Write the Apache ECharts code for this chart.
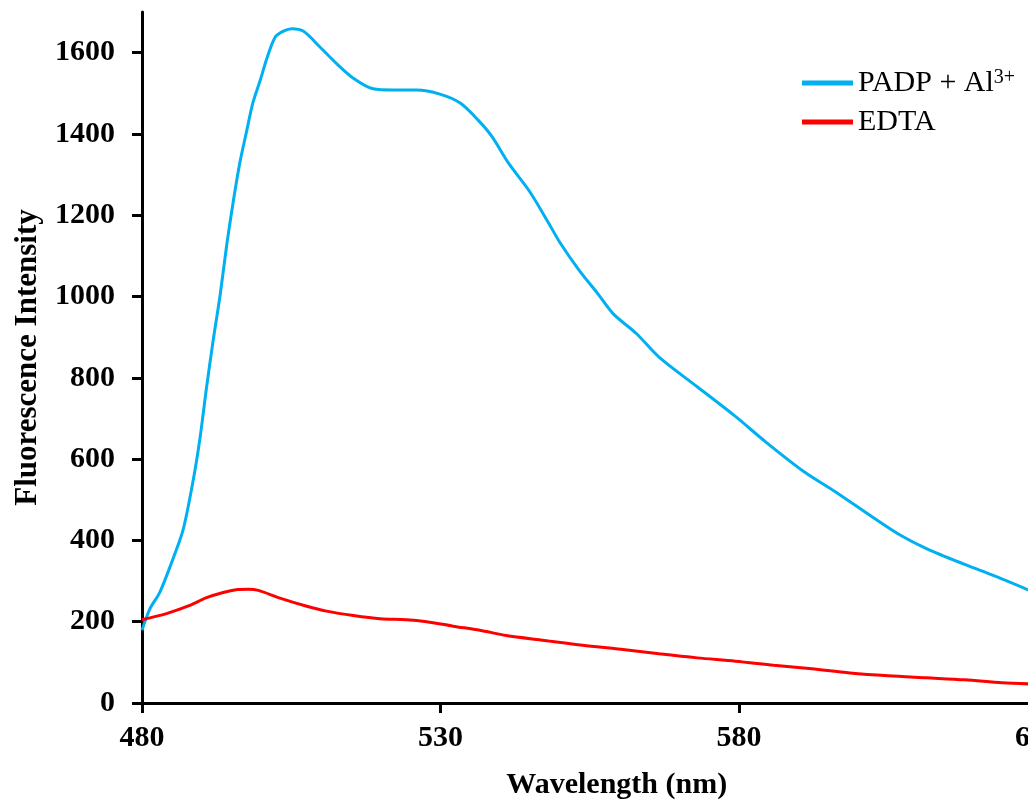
<!DOCTYPE html>
<html>
<head>
<meta charset="utf-8">
<script src="https://cdn.jsdelivr.net/npm/echarts@6/dist/echarts.min.js"></script>
<style>html,body{margin:0;padding:0;background:#fff}#c{width:1028px;height:805px}</style>
</head>
<body>
<div id="c"></div>
<script>
// Wavelength (nm) / intensity pairs
const padpWl = [480,481.3,483.0,485.2,486.9,488.6,489.7,490.8,491.9,493.1,494.2,495.3,496.4,497.5,498.6,499.8,500.9,502.3,503.7,505.1,507.0,509.8,512.6,515.4,518.7,522.1,526.0,529.9,533.3,536.3,538.6,541.4,544.9,548.1,550.0,553.2,556.4,558.9,562.8,566.6,573.0,579.4,584.5,590.9,596.0,602.4,606.9,611.4,617.8,622.9,628.5];
const padpVal = [179,231,273,355,427,550,650,775,890,1005,1128,1235,1330,1405,1478,1532,1585,1638,1653,1659,1653,1614,1573,1537,1511,1508,1508,1498,1476,1434,1394,1328,1259,1181,1133,1065,1006,958,909,851,778,705,642,569,521,457,414,380,341,312,278];
const edtaWl = [480,484.1,488.0,490.8,493.6,496.0,497.8,499.5,503.1,507.6,510.9,515.4,519.9,524.3,527.7,532.1,536.6,541.0,547.4,553.8,560.2,566.6,573.0,579.4,585.8,592.2,598.6,605.0,611.4,617.8,624.1,628.5];
const edtaVal = [205,220,240,259,272,279,280,277,258,238,226,215,207,205,200,189,179,166,154,142,132,121,111,103,93,84,74,67,62,57,50,47];
const xTicks = [480,530,580,630];
const yTicks = [0,200,400,600,800,1000,1200,1400,1600];
const seriesNames = ['PADP + Al3+','EDTA'];

const zip = (a,b) => a.map((v,i)=>[v,b[i]]);
const FONT = 'Liberation Serif';
const chart = echarts.init(document.getElementById('c'), null, {renderer:'canvas'});
chart.setOption({
  animation:false,
  backgroundColor:'#fff',
  grid:{left:142, right:-9.5, top:12, bottom:102, containLabel:false, outerBoundsMode:'none'},
  legend:{
    orient:'vertical', left:797, top:63, itemGap:9,
    itemWidth:51, itemHeight:5, icon:'rect',
    data:seriesNames,
    textStyle:{fontFamily:FONT, fontSize:30, color:'#000',
      rich:{
        a:{fontFamily:FONT, fontSize:30, color:'#000'},
        s:{fontFamily:FONT, fontSize:20, color:'#000', verticalAlign:'top', padding:[0,0,10,0]}
      }},
    formatter: n => n==='PADP + Al3+' ? '{a|PADP + Al}{s|3+}' : '{a|'+n+'}'
  },
  xAxis:{
    type:'value', min:480, max:630, interval:50,
    name:'Wavelength (nm)', nameLocation:'middle', nameGap:67,
    nameTextStyle:{fontFamily:FONT, fontSize:30, fontWeight:'bold', color:'#000', padding:[0,0,0,54]},
    axisLine:{lineStyle:{color:'#000', width:3}},
    axisTick:{show:true, length:10, lineStyle:{color:'#000', width:3}, customValues:xTicks},
    axisLabel:{fontFamily:FONT, fontSize:30, fontWeight:'bold', color:'#000', margin:20, customValues:xTicks,
      formatter: v => String(v)},
    splitLine:{show:false}
  },
  yAxis:{
    type:'value', min:0, max:1700, interval:200,
    name:'Fluorescence Intensity', nameLocation:'middle', nameGap:99,
    nameTextStyle:{fontFamily:FONT, fontSize:31, fontWeight:'bold', color:'#000'},
    axisLine:{show:true, lineStyle:{color:'#000', width:3}},
    axisTick:{show:true, length:10, lineStyle:{color:'#000', width:3}, customValues:yTicks},
    axisLabel:{fontFamily:FONT, fontSize:30, fontWeight:'bold', color:'#000', margin:27, customValues:yTicks,
      formatter: v => String(v)},
    splitLine:{show:false}
  },
  series:[
    {name:seriesNames[0], type:'line', data:zip(padpWl,padpVal), showSymbol:false, symbol:'none', smooth:0.3,
     lineStyle:{color:'#00B0F0', width:3}, itemStyle:{color:'#00B0F0'}},
    {name:seriesNames[1], type:'line', data:zip(edtaWl,edtaVal), showSymbol:false, symbol:'none', smooth:0.3,
     lineStyle:{color:'#FF0000', width:3}, itemStyle:{color:'#FF0000'}}
  ]
});
</script>
</body>
</html>
